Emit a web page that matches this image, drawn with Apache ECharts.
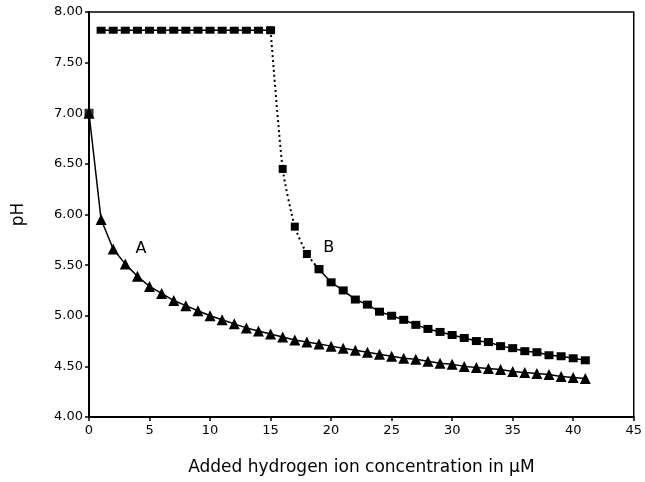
<!DOCTYPE html>
<html><head><meta charset="utf-8">
<script src="https://cdn.jsdelivr.net/npm/echarts@6/dist/echarts.min.js"></script>
<style>html,body{margin:0;padding:0;background:#fff}#c{width:645px;height:482px}</style>
</head><body><div id="c"></div>
<script>
const xA = [0,1,2,3,4,5,6,7,8,9,10,11,12,13,14,15,16,17,18,19,20,21,22,23,24,25,26,27,28,29,30,31,32,33,34,35,36,37,38,39,40,41];
const phA = [7.00,5.95,5.66,5.51,5.39,5.29,5.22,5.15,5.10,5.05,5.00,4.96,4.92,4.88,4.85,4.82,4.79,4.76,4.74,4.72,4.70,4.68,4.66,4.64,4.62,4.60,4.58,4.57,4.55,4.53,4.52,4.50,4.49,4.48,4.47,4.45,4.44,4.43,4.42,4.40,4.39,4.38];
const xBflat = [1,2,3,4,5,6,7,8,9,10,11,12,13,14,15];
const phBflat = [7.82,7.82,7.82,7.82,7.82,7.82,7.82,7.82,7.82,7.82,7.82,7.82,7.82,7.82,7.82];
const xBdrop = [15,16,17,18,19];
const phBdrop = [7.82,6.45,5.88,5.61,5.46];
const xBtail = [19,20,21,22,23,24,25,26,27,28,29,30,31,32,33,34,35,36,37,38,39,40,41];
const phBtail = [5.46,5.33,5.25,5.16,5.11,5.04,5.00,4.96,4.91,4.87,4.84,4.81,4.78,4.75,4.74,4.70,4.68,4.65,4.64,4.61,4.60,4.58,4.56];
const xBstart = [0];
const phBstart = [7.00];
const xTicks = [0,5,10,15,20,25,30,35,40,45];
const yTicks = ['4.00','4.50','5.00','5.50','6.00','6.50','7.00','7.50','8.00'];
const curveLabels = ['A','B'];
const curveLabelX = [4.3, 19.8];
const curveLabelY = [5.66, 5.67];

const zip = (xs, ys) => xs.map((x,i)=>[x, ys[i]]);
const F = 'DejaVu Sans';
const chart = echarts.init(document.getElementById('c'), null, {renderer:'canvas'});
chart.setOption({
  animation:false,
  backgroundColor:'#fff',
  grid:{left:89, right:8, top:12, bottom:65, show:true, borderColor:'#000', borderWidth:1.5, backgroundColor:'transparent'},
  xAxis:{type:'value', min:xTicks[0], max:xTicks[xTicks.length-1], interval:5,
    name:'Added hydrogen ion concentration in \u00b5M', nameLocation:'middle', nameGap:42,
    nameTextStyle:{fontFamily:F, fontSize:17, color:'#000'},
    axisLine:{lineStyle:{color:'#000', width:2}},
    axisTick:{show:true, length:4, lineStyle:{color:'#000', width:1.5}},
    axisLabel:{fontFamily:F, fontSize:13, color:'#000', margin:7},
    splitLine:{show:false}},
  yAxis:{type:'value', min:4, max:8, interval:0.5,
    name:'pH', nameLocation:'middle', nameGap:62,
    nameTextStyle:{fontFamily:F, fontSize:17, color:'#000'},
    axisLine:{show:true, lineStyle:{color:'#000', width:2}},
    axisTick:{show:true, length:4, lineStyle:{color:'#000', width:1.5}},
    axisLabel:{fontFamily:F, fontSize:13, color:'#000', margin:6, formatter:v=>yTicks[Math.round((v-4)/0.5)]},
    splitLine:{show:false}},
  series:[
    {type:'line', data:zip(xA, phA), symbol:'triangle', symbolSize:11, itemStyle:{color:'#000'},
     lineStyle:{color:'#000', width:1.5}, z:5},
    {type:'line', data:zip(xBflat, phBflat), symbol:'rect', symbolSize:[9,7], itemStyle:{color:'#000'},
     lineStyle:{color:'#000', width:1.5}},
    {type:'line', data:zip(xBdrop, phBdrop), symbol:'rect', symbolSize:8, itemStyle:{color:'#000'},
     smooth:0.2, lineStyle:{color:'#000', width:2, type:[2,3]}},
    {type:'line', data:zip(xBtail, phBtail), symbol:'rect', symbolSize:[9,8], itemStyle:{color:'#000'},
     lineStyle:{color:'#000', width:1.5}},
    {type:'scatter', data:zip(xBstart, phBstart), symbol:'rect', symbolSize:9, itemStyle:{color:'#000'}},
    {type:'scatter', data:curveLabelX.map((x,i)=>({value:[x, curveLabelY[i]], name:curveLabels[i]})),
     symbol:'circle', symbolSize:1, itemStyle:{color:'rgba(0,0,0,0)'}, silent:true, z:10,
     label:{show:true, position:'inside', formatter:p=>p.name, fontFamily:F, fontSize:16, color:'#000', opacity:1, textBorderWidth:0}}
  ]
});
</script></body></html>
